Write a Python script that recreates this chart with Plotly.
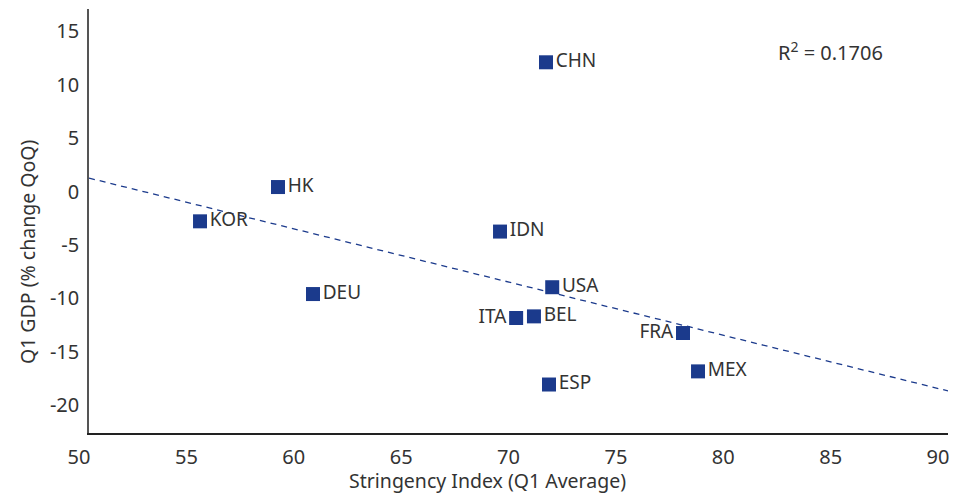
import plotly.graph_objects as go

countries = ["CHN", "HK", "KOR", "IDN", "DEU", "USA", "ITA", "BEL", "FRA", "MEX", "ESP"]
stringency = [71.28, 58.80, 55.17, 69.14, 60.43, 71.57, 69.89, 70.72, 77.66, 78.36, 71.42]
gdp = [12.10, 0.42, -2.79, -3.75, -9.60, -8.96, -11.84, -11.69, -13.25, -16.84, -18.07]
label_pos = ["middle right", "middle right", "middle right", "middle right", "middle right",
             "middle right", "middle left", "middle right", "middle left", "middle right", "middle right"]
# linear trend line as drawn in the chart (read at its two ends)
trend_x = [50, 90.4]
trend_y = [1.26, -18.87]
x_ticks = [50, 55, 60, 65, 70, 75, 80, 85, 90]
y_ticks = [-20, -15, -10, -5, 0, 5, 10, 15]
y_ticktext = ["-20", "-15", "-10", "-5", "0", "5", "10", "15"]
r2_text = "R<sup>2</sup> = 0.1706"
x_title = "Stringency Index (Q1 Average)"
y_title = "Q1 GDP (% change QoQ)"

blue = "#1B3A8C"
txt = "#333333"
font = "Noto Sans"

fig = go.Figure()
fig.add_trace(go.Scatter(x=trend_x, y=trend_y, mode="lines",
                         line=dict(color=blue, width=1.3, dash="6px,5px"),
                         hoverinfo="skip", showlegend=False))
fig.add_trace(go.Scatter(x=stringency, y=gdp, mode="markers+text",
                         text=countries, textposition=label_pos,
                         textfont=dict(family=font, size=19, color=txt),
                         marker=dict(symbol="square", size=14, color=blue),
                         showlegend=False))

fig.add_annotation(x=82.0, y=13.1, xref="x", yref="y", text=r2_text, showarrow=False,
                   xanchor="left", yanchor="middle",
                   font=dict(family=font, size=20, color=txt))
fig.add_annotation(x=0.4639, y=-0.113, xref="paper", yref="paper", text=x_title,
                   showarrow=False, xanchor="center", yanchor="middle",
                   font=dict(family=font, size=19.5, color=txt))
fig.add_annotation(x=-0.0722, y=0.429, xref="paper", yref="paper", text=y_title,
                   showarrow=False, xanchor="center", yanchor="middle", textangle=-90,
                   font=dict(family=font, size=19.5, color=txt))

fig.update_layout(
    width=964, height=493,
    margin=dict(l=89, r=16, t=9, b=60, autoexpand=False),
    paper_bgcolor="white", plot_bgcolor="white",
    font=dict(family=font, color=txt, size=19),
)
fig.update_xaxes(range=[50, 90], tickvals=x_ticks, ticks="", showgrid=False, zeroline=False,
                 automargin=False,
                 showline=True, linecolor="#222222", linewidth=1.5,
                 ticklabelshift=-10, ticklabelstandoff=5,
                 tickfont=dict(family=font, size=20, color=txt))
fig.update_yaxes(range=[-22.61, 17.09], tickvals=y_ticks, ticktext=y_ticktext,
                 ticks="", showgrid=False, zeroline=False, automargin=False,
                 showline=True, linecolor="#555555", linewidth=1.5,
                 ticklabelstandoff=4,
                 tickfont=dict(family=font, size=20, color=txt))

fig.write_html("out.html", config={"displayModeBar": False},
               post_script="document.body.style.margin='0';document.body.style.padding='0';")
